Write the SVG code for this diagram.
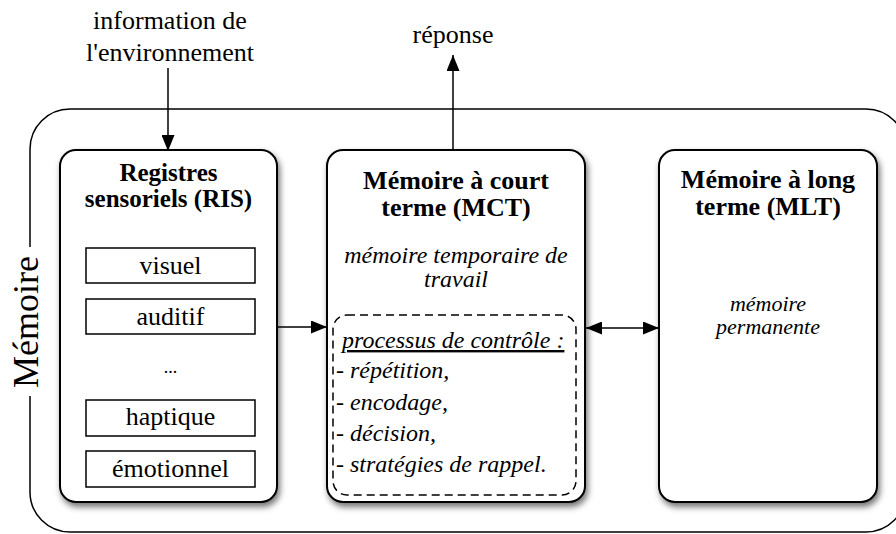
<svg xmlns="http://www.w3.org/2000/svg" width="896" height="534" viewBox="0 0 896 534">
  <defs>
    <filter id="shadow" x="-10%" y="-10%" width="125%" height="125%">
      <feDropShadow dx="2" dy="4" stdDeviation="3" flood-color="#000" flood-opacity="0.55"/>
    </filter>
    <marker id="arrow" viewBox="0 0 16 13" refX="16" refY="6.5" markerWidth="16" markerHeight="13" markerUnits="userSpaceOnUse" orient="auto-start-reverse">
      <path d="M0,0 L16,6.5 L0,13 Z" fill="#000"/>
    </marker>
  </defs>
  <style>
    text { font-family: "Liberation Serif", "Times New Roman", serif; fill: #000; }
    .title { font-size: 26px; font-weight: bold; text-anchor: middle; }
    .body { font-size: 26px; text-anchor: middle; }
    .ital { font-size: 24px; font-style: italic; text-anchor: middle; }
    .list { font-size: 24px; font-style: italic; }
    .box { fill: #fff; stroke: #000; stroke-width: 2; filter: url(#shadow); }
    .cell { fill: #fff; stroke: #000; stroke-width: 1.5; }
    .dash { fill: none; stroke: #000; stroke-width: 1.5; stroke-dasharray: 8 5; }
    .edge { fill: none; stroke: #000; stroke-width: 1.5; }
  </style>
  <rect width="896" height="534" fill="#fff"/>

  <!-- outer memory frame, open on the left for its label -->
  <g id="memoire">
    <path class="edge" d="M30,247 L30,149 A40,40 0 0 1 70,109 L866,109 A40,40 0 0 1 906,149 L906,492 A40,40 0 0 1 866,532 L70,532 A40,40 0 0 1 30,492 L30,396"/>
    <text x="38" y="322" transform="rotate(-90 38 322)" style="font-size:36px;text-anchor:middle">Mémoire</text>
  </g>

  <!-- inputs and outputs -->
  <g id="environnement">
    <text class="body" x="170" y="29">information de</text>
    <text class="body" x="170" y="61">l'environnement</text>
  </g>
  <g id="reponse">
    <text class="body" x="453" y="43">réponse</text>
  </g>

  <!-- sensory registers -->
  <g id="ris">
    <rect class="box" x="60" y="150" width="217" height="352" rx="16"/>
    <text class="title" x="168.5" y="181" style="font-size:25px">Registres</text>
    <text class="title" x="168.5" y="207" style="font-size:25px">sensoriels (RIS)</text>
    <rect class="cell" x="86" y="248" width="169" height="35"/>
    <text class="body" x="170.5" y="274">visuel</text>
    <rect class="cell" x="86" y="299" width="169" height="35"/>
    <text class="body" x="170.5" y="325">auditif</text>
    <text class="body" x="170.5" y="373" style="font-size:18px">...</text>
    <rect class="cell" x="86" y="400" width="169" height="36"/>
    <text class="body" x="170.5" y="425">haptique</text>
    <rect class="cell" x="86" y="451" width="169" height="36"/>
    <text class="body" x="170.5" y="477">émotionnel</text>
  </g>

  <!-- short-term memory -->
  <g id="mct">
    <rect class="box" x="327" y="150" width="258" height="352" rx="16"/>
    <text class="title" x="456" y="189">Mémoire à court</text>
    <text class="title" x="456" y="216">terme (MCT)</text>
    <text class="ital" x="456" y="263">mémoire temporaire de</text>
    <text class="ital" x="456" y="287">travail</text>
    <rect class="dash" x="333" y="315" width="243" height="180" rx="14"/>
    <text class="list" x="342" y="348" text-decoration="underline">processus de contrôle :</text>
    <text class="list" x="336" y="378">- répétition,</text>
    <text class="list" x="336" y="410">- encodage,</text>
    <text class="list" x="336" y="441">- décision,</text>
    <text class="list" x="336" y="472">- stratégies de rappel.</text>
  </g>

  <!-- long-term memory -->
  <g id="mlt">
    <rect class="box" x="659" y="150" width="218" height="352" rx="16"/>
    <text class="title" x="768" y="188">Mémoire à long</text>
    <text class="title" x="768" y="215">terme (MLT)</text>
    <text class="ital" x="768" y="311" style="font-size:22px">mémoire</text>
    <text class="ital" x="768" y="334" style="font-size:22px">permanente</text>
  </g>

  <!-- connectors -->
  <g id="connectors">
    <line class="edge" x1="168" y1="68" x2="168" y2="151" marker-end="url(#arrow)"/>
    <line class="edge" x1="453" y1="150" x2="453" y2="55" marker-end="url(#arrow)"/>
    <line class="edge" x1="277" y1="327" x2="327" y2="327" marker-end="url(#arrow)"/>
    <line class="edge" x1="586" y1="328" x2="659" y2="328" marker-start="url(#arrow)" marker-end="url(#arrow)"/>
  </g>
</svg>
